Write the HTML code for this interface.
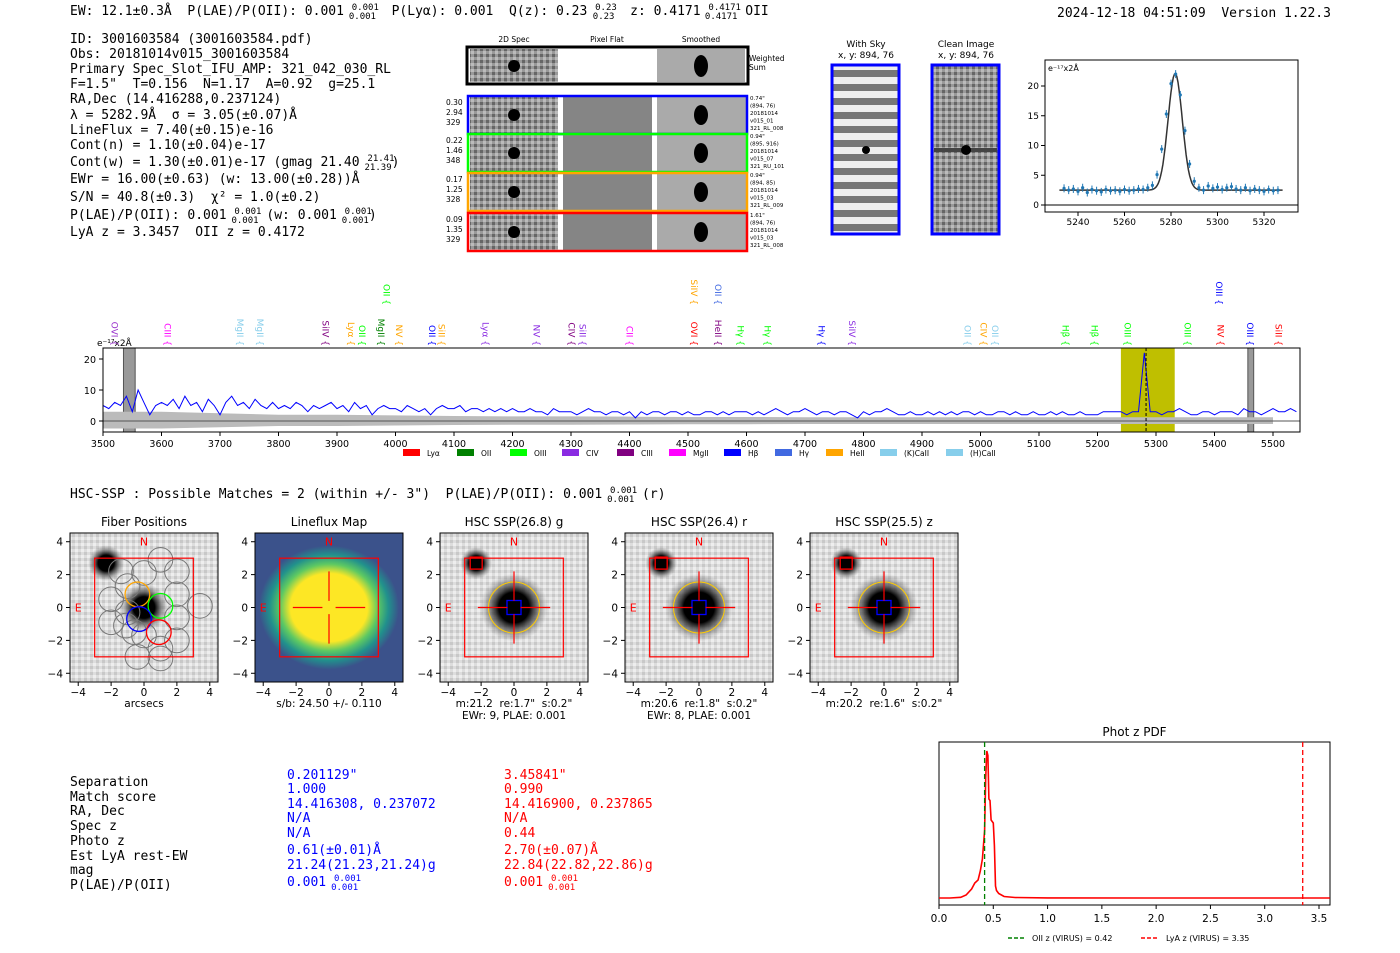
<!DOCTYPE html>
<html><head><meta charset="utf-8">
<style>
body{margin:0;background:#fff;width:1400px;height:953px;overflow:hidden}
svg{display:block}
text{white-space:pre}
.m{font-family:"DejaVu Sans Mono","Liberation Mono",monospace;font-size:13px;fill:#000}
.s{font-family:"DejaVu Sans","Liberation Sans",sans-serif;fill:#000}
</style></head><body>
<svg id="root" width="1400" height="953" xmlns="http://www.w3.org/2000/svg" xml:space="preserve">
<defs>
<radialGradient id="blob"><stop offset="0" stop-color="#000"/><stop offset="0.45" stop-color="#000"/><stop offset="0.7" stop-color="#555" stop-opacity="0.7"/><stop offset="1" stop-color="#888" stop-opacity="0"/></radialGradient>
<radialGradient id="ylw"><stop offset="0" stop-color="#fde725"/><stop offset="0.55" stop-color="#fde725"/><stop offset="0.7" stop-color="#5ec962"/><stop offset="0.85" stop-color="#21918c"/><stop offset="1" stop-color="#3b528b"/></radialGradient>
<pattern id="stripes" width="10" height="14" patternUnits="userSpaceOnUse"><rect width="10" height="14" fill="#eee"/><rect y="0" width="10" height="7" fill="#777"/></pattern>
<pattern id="noise" width="6" height="6" patternUnits="userSpaceOnUse"><rect width="6" height="6" fill="#999"/><rect width="3" height="3" fill="#666"/><rect x="3" y="3" width="3" height="3" fill="#bbb"/></pattern>
<pattern id="lnoise" width="6" height="6" patternUnits="userSpaceOnUse"><rect width="6" height="6" fill="#ddd"/><rect width="3" height="3" fill="#c8c8c8"/><rect x="3" y="3" width="3" height="3" fill="#eee"/></pattern>
</defs>

<text class="m" x="70" y="15">EW: 12.1±0.3Å  P(LAE)/P(OII): 0.001 <tspan font-size="9" dy="-5">0.001</tspan><tspan font-size="9" dx="-30" dy="9">0.001</tspan><tspan dy="-4">  P(Lyα): 0.001  Q(z): 0.23 </tspan><tspan font-size="9" dy="-5">0.23</tspan><tspan font-size="9" dx="-24" dy="9">0.23</tspan><tspan dy="-4">  z: 0.4171 </tspan><tspan font-size="9" dy="-5">0.4171</tspan><tspan font-size="9" dx="-36" dy="9">0.4171</tspan><tspan dy="-4"> OII</tspan></text>
<text class="m" x="1057" y="17">2024-12-18 04:51:09  Version 1.22.3</text>

<g class="m">
<text x="70" y="43">ID: 3001603584 (3001603584.pdf)</text>
<text x="70" y="58">Obs: 20181014v015_3001603584</text>
<text x="70" y="73">Primary Spec_Slot_IFU_AMP: 321_042_030_RL</text>
<text x="70" y="88">F=1.5"  T=0.156  N=1.17  A=0.92  g=25.1</text>
<text x="70" y="103">RA,Dec (14.416288,0.237124)</text>
<text x="70" y="119">λ = 5282.9Å  σ = 3.05(±0.07)Å</text>
<text x="70" y="134">LineFlux = 7.40(±0.15)e-16</text>
<text x="70" y="149">Cont(n) = 1.10(±0.04)e-17</text>
<text x="70" y="166">Cont(w) = 1.30(±0.01)e-17 (gmag 21.40 <tspan font-size="9" dy="-5">21.41</tspan><tspan font-size="9" dx="-30" dy="9">21.39</tspan><tspan dy="-4">)</tspan></text>
<text x="70" y="183">EWr = 16.00(±0.63) (w: 13.00(±0.28))Å</text>
<text x="70" y="201">S/N = 40.8(±0.3)  χ² = 1.0(±0.2)</text>
<text x="70" y="219">P(LAE)/P(OII): 0.001 <tspan font-size="9" dy="-5">0.001</tspan><tspan font-size="9" dx="-30" dy="9">0.001</tspan><tspan dy="-4"> (w: 0.001 </tspan><tspan font-size="9" dy="-5">0.001</tspan><tspan font-size="9" dx="-30" dy="9">0.001</tspan><tspan dy="-4">)</tspan></text>
<text x="70" y="236">LyA z = 3.3457  OII z = 0.4172</text>
</g>

<g>
<text class="s" font-size="7.5" x="514" y="42" text-anchor="middle">2D Spec</text>
<text class="s" font-size="7.5" x="607" y="42" text-anchor="middle">Pixel Flat</text>
<text class="s" font-size="7.5" x="701" y="42" text-anchor="middle">Smoothed</text>
<rect x="467" y="47" width="281" height="37" fill="#fff" stroke="#000" stroke-width="3"/>
<rect x="470" y="49" width="88" height="33" fill="url(#noise)"/>
<rect x="657" y="49" width="88" height="33" fill="#aaa"/>
<ellipse cx="514" cy="66" rx="6" ry="6" fill="#000"/>
<ellipse cx="701" cy="66" rx="7" ry="11" fill="#000"/>
<text class="s" font-size="7.5" x="749" y="61">Weighted</text><text class="s" font-size="7.5" x="749" y="70">Sum</text>
</g>
<g id="specrows"></g>

<g>
<text class="s" font-size="9" x="866" y="47" text-anchor="middle">With Sky</text>
<text class="s" font-size="9" x="866" y="58" text-anchor="middle">x, y: 894, 76</text>
<rect x="832" y="65" width="67" height="169" fill="url(#stripes)" stroke="#00f" stroke-width="3"/>
<circle cx="866" cy="150" r="4" fill="#000"/>
</g>
<g>
<text class="s" font-size="9" x="966" y="47" text-anchor="middle">Clean Image</text>
<text class="s" font-size="9" x="966" y="58" text-anchor="middle">x, y: 894, 76</text>
<rect x="932" y="65" width="67" height="169" fill="url(#noise)" stroke="#00f" stroke-width="3"/>
<rect x="934" y="148" width="63" height="4" fill="#444"/>
<circle cx="966" cy="150" r="5" fill="#000"/>
</g>

<g id="fitplot"></g>
<g id="spec"></g>

<text class="m" x="70" y="498">HSC-SSP : Possible Matches = 2 (within +/- 3")  P(LAE)/P(OII): 0.001 <tspan font-size="9" dy="-5">0.001</tspan><tspan font-size="9" dx="-30" dy="9">0.001</tspan><tspan dy="-4"> (r)</tspan></text>

<g id="cutouts"></g>

<g class="m">
<text x="70" y="786">Separation</text><text x="70" y="801">Match score</text><text x="70" y="815">RA, Dec</text><text x="70" y="830">Spec z</text><text x="70" y="845">Photo z</text><text x="70" y="860">Est LyA rest-EW</text><text x="70" y="874">mag</text><text x="70" y="889">P(LAE)/P(OII)</text>
<g>
<text x="287" y="779" fill="#00f">0.201129"</text><text x="287" y="793" fill="#00f">1.000</text><text x="287" y="808" fill="#00f">14.416308, 0.237072</text><text x="287" y="822" fill="#00f">N/A</text><text x="287" y="837" fill="#00f">N/A</text><text x="287" y="854" fill="#00f">0.61(±0.01)Å</text><text x="287" y="869" fill="#00f">21.24(21.23,21.24)g</text><text x="287" y="886" fill="#00f">0.001 <tspan font-size="9" dy="-5">0.001</tspan><tspan font-size="9" dx="-30" dy="9">0.001</tspan></text>
</g>
<g>
<text x="504" y="779" fill="#f00">3.45841"</text><text x="504" y="793" fill="#f00">0.990</text><text x="504" y="808" fill="#f00">14.416900, 0.237865</text><text x="504" y="822" fill="#f00">N/A</text><text x="504" y="837" fill="#f00">0.44</text><text x="504" y="854" fill="#f00">2.70(±0.07)Å</text><text x="504" y="869" fill="#f00">22.84(22.82,22.86)g</text><text x="504" y="886" fill="#f00">0.001 <tspan font-size="9" dy="-5">0.001</tspan><tspan font-size="9" dx="-30" dy="9">0.001</tspan></text>
</g>
</g>

<g id="pdf"></g>
</svg>

<script>
const fitWave=[5234,5236,5238,5240,5242,5244,5246,5248,5250,5252,5254,5256,5258,5260,5262,5264,5266,5268,5270,5272,5274,5276,5278,5280,5282,5284,5286,5288,5290,5292,5294,5296,5298,5300,5302,5304,5306,5308,5310,5312,5314,5316,5318,5320,5322,5324,5326];
const fitFlux=[2.8,2.5,2.7,2.3,2.9,2.1,2.6,2.4,2.2,2.6,2.4,2.5,2.3,2.6,2.4,2.5,2.7,2.6,2.9,3.3,5.1,9.4,15.3,20.4,22.0,18.5,12.5,6.9,4.0,2.9,2.5,3.2,2.8,3.0,2.6,2.9,3.1,2.7,2.5,2.9,2.4,2.7,2.5,2.3,2.6,2.4,2.5];
const fitTicksX=[5240,5260,5280,5300,5320];
const fitTicksY=[0,5,10,15,20];
const fitCenter=5281.8, fitSigma=3.05, fitAmp=19.6, fitCont=2.5;

const specStart=3500, specStep=10;
const specFlux=[5,4,6,5,8,3,10,6,2,5, 6,5,7,4,8,5,6,3,7,5, 2,6,8,5,6,4,7,5,4,6, 4,5,4,6,5,3,5,4,5,6, 4,5,3,6,4,5,2,4,5,4, 4,3,5,4,3,4,2,4,5,4, 4,5,3,4,4,3,4,3,4,3, 4,3,3,4,3,3,2,4,3,3, 3,2,3,4,3,3,2,3,3,2, 3,1,3,2,3,3,2,3,3,2, 3,2,2,3,3,2,3,2,3,3, 3,2,3,2,3,4,3,2,3,3, 4,3,2,3,3,2,3,3,2,1, 3,2,3,3,4,3,2,2,3,2, 2,3,2,3,2,3,2,3,3,2, 3,2,2,3,3,2,3,2,2,3, 2,2,3,2,3,2,2,3,2,2, 2,3,3,3,3,2,3,3,22,3, 3,2,3,3,4,3,2,2,3,3, 2,3,3,3,2,4,3,3,2,3, 4,3,3,4,3];
const specErr=[3,3,2.5,2,2,1.8,1.6,1.5,1.5,1.4,1.3,1.3,1.2,1.2,1.2,1.2,1.2,1.2,1.2,1.2,1.2];
const specTicksX=[3500,3600,3700,3800,3900,4000,4100,4200,4300,4400,4500,4600,4700,4800,4900,5000,5100,5200,5300,5400,5500];
const specTicksY=[0,10,20];
const lineWaves=[3520,3610,3734,3768,3880,3924,3943,3975,4006,4062,4079,4154,4241,4301,4320,4400,4510,4551,4590,4636,4728,4780,4978,5005,5025,5145,5195,5251,5354,5410,5461,5509];
const lineNames=["OVI","CIII","MgII","MgII","SiIV","Lyα","OII","MgII","NV","OII","SiII","Lyα","NV","CIV","SiII","CII","OVI","HeII","Hγ","Hγ","Hγ","SiIV","OII","CIV","OII","Hβ","Hβ","OIII","OIII","NV","OIII","SiII"];
const lineColors=["#9932cc","#f0f","#87ceeb","#87ceeb","#800080","#ffa500","#0f0","#008000","#ffa500","#00f","#ffa500","#8a2be2","#8a2be2","#800080","#8a2be2","#f0f","#f00","#800080","#0f0","#0f0","#00f","#8a2be2","#87ceeb","#ffa500","#87ceeb","#0f0","#0f0","#0f0","#0f0","#f00","#00f","#f00"];
const topWaves=[3985,4510,4551,5408];
const topNames=["OII","SiIV","OII","OIII"];
const topColors=["#0f0","#ffa500","#4169e1","#00f"];

const pdfZ=[0,0.1,0.2,0.25,0.3,0.33,0.36,0.38,0.4,0.42,0.43,0.44,0.45,0.46,0.47,0.48,0.49,0.5,0.51,0.52,0.53,0.55,0.6,0.7,1.0,2.0,3.0,3.6];
const pdfP=[0,0,0.005,0.02,0.06,0.1,0.12,0.18,0.26,0.45,0.8,0.98,0.95,0.66,0.65,0.52,0.51,0.5,0.35,0.08,0.05,0.03,0.01,0.003,0.001,0,0,0];
const pdfTicks=[0,0.5,1.0,1.5,2.0,2.5,3.0,3.5];
const pdfOII=0.42, pdfLyA=3.35;

const NS="http://www.w3.org/2000/svg";
function mk(parent,tag,attrs){const e=document.createElementNS(NS,tag);for(const k in attrs)e.setAttribute(k,attrs[k]);parent.appendChild(e);return e;}
function txt(parent,x,y,s,size,anchor,fill){const t=mk(parent,'text',{x:x,y:y,'font-size':size,'text-anchor':anchor||'start',fill:fill||'#000','font-family':'DejaVu Sans, Liberation Sans, sans-serif'});t.textContent=s;return t;}

(function(){
  const g=document.getElementById('specrows');
  const rows=[{y:95,c:'#00f',l:['0.30','2.94','329'],r:['0.74"','(894, 76)','20181014','v015_01','321_RL_008']},
    {y:133,c:'#0f0',l:['0.22','1.46','348'],r:['0.94"','(895, 916)','20181014','v015_07','321_RU_101']},
    {y:172,c:'#ffa500',l:['0.17','1.25','328'],r:['0.94"','(894, 85)','20181014','v015_03','321_RL_009']},
    {y:212,c:'#f00',l:['0.09','1.35','329'],r:['1.61"','(894, 76)','20181014','v015_03','321_RL_008']}];
  rows.forEach((r,i)=>{
    const row=mk(g,'g',{});
    
    
    mk(row,'rect',{x:470,y:r.y+2,width:88,height:36,fill:'url(#noise)'});
    mk(row,'rect',{x:563,y:r.y+2,width:89,height:36,fill:'#858585'});
    mk(row,'rect',{x:657,y:r.y+2,width:89,height:36,fill:'#aaa'});
    mk(row,'circle',{cx:514,cy:r.y+20,r:6,fill:'#000'});
    mk(row,'ellipse',{cx:701,cy:r.y+20,rx:7,ry:10,fill:'#000'});
    mk(row,'rect',{x:468,y:r.y+1,width:279,height:38,fill:'none',stroke:r.c,'stroke-width':2.5});
    r.l.forEach((s,k)=>txt(row,446,r.y+10+k*10,s,7.5));
    r.r.forEach((s,k)=>txt(row,750,r.y+5+k*7.5,s,5.5));
  });
})();

(function(){
  const g=document.getElementById('fitplot');
  const X0=1045,X1=1298,Y0=60,Y1=212;
  const xs=w=>1078+(w-5240)*(1264-1078)/80, ys=v=>205-v*(205-86)/20;
  mk(g,'rect',{x:X0,y:Y0,width:X1-X0,height:Y1-Y0,fill:'#fff',stroke:'#000','stroke-width':1});
  mk(g,'line',{x1:X0,x2:X1,y1:ys(0),y2:ys(0),stroke:'#000','stroke-width':1});
  txt(g,1048,71,'e⁻¹⁷x2Å',8);
  fitTicksX.forEach(v=>{mk(g,'line',{x1:xs(v),x2:xs(v),y1:Y1,y2:Y1+4,stroke:'#000'});txt(g,xs(v),Y1+13,v,9,'middle');});
  fitTicksY.forEach(v=>{mk(g,'line',{x1:X0-4,x2:X0,y1:ys(v),y2:ys(v),stroke:'#000'});txt(g,X0-6,ys(v)+3,v,9,'end');});
  let d='';for(let w=5232;w<=5328;w+=0.5){const v=fitCont+fitAmp*Math.exp(-0.5*Math.pow((w-fitCenter)/fitSigma,2));d+=(d?'L':'M')+xs(w).toFixed(1)+','+ys(v).toFixed(1);}
  const fit=mk(g,'path',{d:d,fill:'none',stroke:'#333','stroke-width':1.5});
  
  
  fitWave.forEach((w,i)=>{
    mk(g,'line',{x1:xs(w),x2:xs(w),y1:ys(fitFlux[i])-4,y2:ys(fitFlux[i])+4,stroke:'#1f77b4'});
    const p=mk(g,'circle',{cx:xs(w),cy:ys(fitFlux[i]),r:1.6,fill:'#1f77b4'});
    
    
  });
})();

(function(){
  const g=document.getElementById('spec');
  const X0=103,X1=1300,Y0=348,Y1=432;
  const xs=w=>103+(w-3500)*(1273-103)/2000, ys=v=>421-v*3.1;
  mk(g,'rect',{x:X0,y:Y0,width:X1-X0,height:Y1-Y0,fill:'#fff'});
  const band=mk(g,'rect',{x:xs(5240),y:Y0,width:xs(5332)-xs(5240),height:Y1-Y0,fill:'#bfbf00'});
  
  
  [[3535,3555],[5457,5467]].forEach(b=>{mk(g,'rect',{x:xs(b[0]),y:Y0,width:xs(b[1])-xs(b[0]),height:Y1-Y0,fill:'#999',stroke:'#555'});});
  let up='',dn='';
  for(let i=0;i<specErr.length;i++){const w=3500+i*100;up+=(up?'L':'M')+xs(w)+','+ys(specErr[i]);}
  for(let i=specErr.length-1;i>=0;i--){const w=3500+i*100;dn+='L'+xs(w)+','+ys(-specErr[i]*0.8);}
  mk(g,'path',{d:up+dn+'Z',fill:'#bbb'});
  mk(g,'line',{x1:X0,x2:X1,y1:ys(0),y2:ys(0),stroke:'#555','stroke-width':1});
  let d='';specFlux.forEach((v,i)=>{d+=(i?'L':'M')+xs(specStart+i*specStep).toFixed(1)+','+ys(v).toFixed(1);});
  const ln=mk(g,'path',{d:d,fill:'none',stroke:'#00f','stroke-width':1});
  
  
  mk(g,'line',{x1:xs(5283),x2:xs(5283),y1:Y0,y2:Y1,stroke:'#000','stroke-dasharray':'3,2'});
  mk(g,'rect',{x:X0,y:Y0,width:X1-X0,height:Y1-Y0,fill:'none',stroke:'#000'});
  txt(g,97,346,'e⁻¹⁷x2Å',9);
  specTicksX.forEach(v=>{mk(g,'line',{x1:xs(v),x2:xs(v),y1:Y1,y2:Y1+4,stroke:'#000'});txt(g,xs(v),Y1+15,v,9.5,'middle');});
  specTicksY.forEach(v=>{mk(g,'line',{x1:X0-4,x2:X0,y1:ys(v),y2:ys(v),stroke:'#000'});txt(g,X0-7,ys(v)+4,v,9.5,'end');});
  function lab(w,n,c,yEnd){const x=xs(w);const t=txt(g,0,0,n+' {',9,'end',c);t.setAttribute('transform','translate('+(x-3)+','+yEnd+') rotate(90)');}
  lineWaves.forEach((w,i)=>lab(w,lineNames[i],lineColors[i],346));
  topWaves.forEach((w,i)=>lab(w,topNames[i],topColors[i],305));
  const items=[['Lyα','#f00'],['OII','#008000'],['OIII','#0f0'],['CIV','#8a2be2'],['CIII','#800080'],['MgII','#f0f'],['Hβ','#00f'],['Hγ','#4169e1'],['HeII','#ffa500'],['(K)CaII','#87ceeb'],['(H)CaII','#87ceeb']];
  const lx=[403,457,510,562,617,669,724,775,826,880,946];
  items.forEach((it,i)=>{const e=mk(g,'g',{});
    mk(e,'rect',{x:lx[i],y:449,width:17,height:7,fill:it[1]});txt(e,lx[i]+24,456,it[0],7.5);});
})();

(function(){
  const g=document.getElementById('cutouts');
  const panels=[{x:70,t:'Fiber Positions',b:['arcsecs']},{x:255,t:'Lineflux Map',b:['s/b: 24.50 +/- 0.110']},
    {x:440,t:'HSC SSP(26.8) g',b:['m:21.2  re:1.7"  s:0.2"','EWr: 9, PLAE: 0.001']},
    {x:625,t:'HSC SSP(26.4) r',b:['m:20.6  re:1.8"  s:0.2"','EWr: 8, PLAE: 0.001']},
    {x:810,t:'HSC SSP(25.5) z',b:['m:20.2  re:1.6"  s:0.2"']}];
  panels.forEach((p,i)=>{
    const e=mk(g,'g',{});
    
    
    const W=148,Y=533,H=149;
    const u=W/9; const cx=p.x+W/2, cy=Y+H/2;
    const sx=v=>cx+v*u, sy=v=>cy-v*u;
    txt(e,cx,526,p.t,12,'middle');
    if(i===1){mk(e,'rect',{x:p.x,y:Y,width:W,height:H,fill:'#3b528b'});mk(e,'ellipse',{cx:cx,cy:cy,rx:70,ry:62,fill:'url(#ylw)'});}
    else{mk(e,'rect',{x:p.x,y:Y,width:W,height:H,fill:'url(#lnoise)'});
      mk(e,'circle',{cx:sx(-2.3),cy:sy(2.7),r:i===0?18:16,fill:'url(#blob)'});
      mk(e,'circle',{cx:sx(0),cy:sy(0),r:i===0?24:34,fill:'url(#blob)'});}
    if(i===0){
      const fib=[[-1,1.3],[0,2.1],[1,2.9],[-2,0.5],[-1,-0.3],[0,-1.7],[1,-2.5],[2,2.2],[2,0.8],[2,-0.6],[2,-2],[-2,-0.9],[-1.4,2.2],[-0.6,-1.5],[-0.4,-3.0],[1,-3.1],[3.4,0.1],[-1.1,-1.1]];
      fib.forEach(f=>mk(e,'circle',{cx:sx(f[0]),cy:sy(f[1]),r:u*0.75,fill:'none',stroke:'#777','stroke-width':1}));
      [['#ffa500',-0.4,0.8],['#0f0',1.0,0.1],['#00f',-0.3,-0.7],['#f00',0.9,-1.5]].forEach(c=>mk(e,'circle',{cx:sx(c[1]),cy:sy(c[2]),r:u*0.75,fill:'none',stroke:c[0],'stroke-width':1.3}));
    }
    if(i>=2){mk(e,'rect',{x:sx(-2.3)-6,y:sy(2.7)-6,width:12,height:12,fill:'none',stroke:'#f00','stroke-width':1.3});
      mk(e,'circle',{cx:cx,cy:cy,r:u*1.55,fill:'none',stroke:'#fc0','stroke-width':1});
      mk(e,'rect',{x:cx-7,y:cy-7,width:14,height:14,fill:'none',stroke:'#00f','stroke-width':1.3});}
    if(i>=1){
      const hx=mk(e,'path',{d:'M'+sx(-2.2)+','+cy+'H'+sx(-0.4)+'M'+sx(0.4)+','+cy+'H'+sx(2.2),fill:'none'});
      hx.setAttribute('style','stroke:#ff0000;stroke-width:1.2');
      const vx=mk(e,'path',{d:'M'+cx+','+sy(2.2)+'V'+sy(0.4)+'M'+cx+','+sy(-0.4)+'V'+sy(-2.2),fill:'none'});
      vx.setAttribute('style','stroke:#ff0000;stroke-width:1.2');
    }
    mk(e,'rect',{x:sx(-3),y:sy(3),width:6*u,height:6*u,fill:'none',stroke:'#f00','stroke-width':1.2});
    txt(e,cx,sy(4)+4,'N',11,'middle','#f00');txt(e,sx(-4),cy+4,'E',11,'middle','#f00');
    mk(e,'rect',{x:p.x,y:Y,width:W,height:H,fill:'none',stroke:'#000'});
    [-4,-2,0,2,4].forEach(v=>{mk(e,'line',{x1:sx(v),x2:sx(v),y1:Y+H,y2:Y+H+4,stroke:'#000'});txt(e,sx(v),Y+H+14,v<0?'−'+(-v):v,10.5,'middle');
      mk(e,'line',{x1:p.x-4,x2:p.x,y1:sy(v),y2:sy(v),stroke:'#000'});txt(e,p.x-7,sy(v)+4,v<0?'−'+(-v):v,10.5,'end');});
    p.b.forEach((s,k)=>txt(e,cx,Y+H+25+k*12,s,10.5,'middle'));
  });
})();

(function(){
  const g=document.getElementById('pdf');
  const X0=939,X1=1330,Y0=742,Y1=905;
  const xs=z=>939+z*(1319-939)/3.5, ys=p=>898-p*150;
  txt(g,(X0+X1)/2,736,'Phot z PDF',12,'middle');
  mk(g,'rect',{x:X0,y:Y0,width:X1-X0,height:Y1-Y0,fill:'#fff',stroke:'#000'});
  let d='';pdfZ.forEach((z,i)=>{d+=(i?'L':'M')+xs(z).toFixed(1)+','+ys(pdfP[i]).toFixed(1);});
  const c=mk(g,'path',{d:d,fill:'none',stroke:'#f00','stroke-width':1.6});
  
  
  mk(g,'line',{x1:xs(pdfOII),x2:xs(pdfOII),y1:Y0,y2:Y1,stroke:'#008000','stroke-width':1.3,'stroke-dasharray':'5,3'});
  mk(g,'line',{x1:xs(pdfLyA),x2:xs(pdfLyA),y1:Y0,y2:Y1,stroke:'#f00','stroke-width':1.3,'stroke-dasharray':'5,3'});
  pdfTicks.forEach(v=>{mk(g,'line',{x1:xs(v),x2:xs(v),y1:Y1,y2:Y1+4,stroke:'#000'});txt(g,xs(v),Y1+17,v.toFixed(1),10.5,'middle');});
  const l1=mk(g,'g',{});
  mk(l1,'line',{x1:1008,x2:1024,y1:938,y2:938,stroke:'#008000','stroke-width':1.5,'stroke-dasharray':'4,2'});txt(l1,1032,941,'OII z (VIRUS) = 0.42',8);
  const l2=mk(g,'g',{});
  mk(l2,'line',{x1:1141,x2:1157,y1:938,y2:938,stroke:'#f00','stroke-width':1.5,'stroke-dasharray':'4,2'});txt(l2,1166,941,'LyA z (VIRUS) = 3.35',8);
})();
</script>
</body></html>
